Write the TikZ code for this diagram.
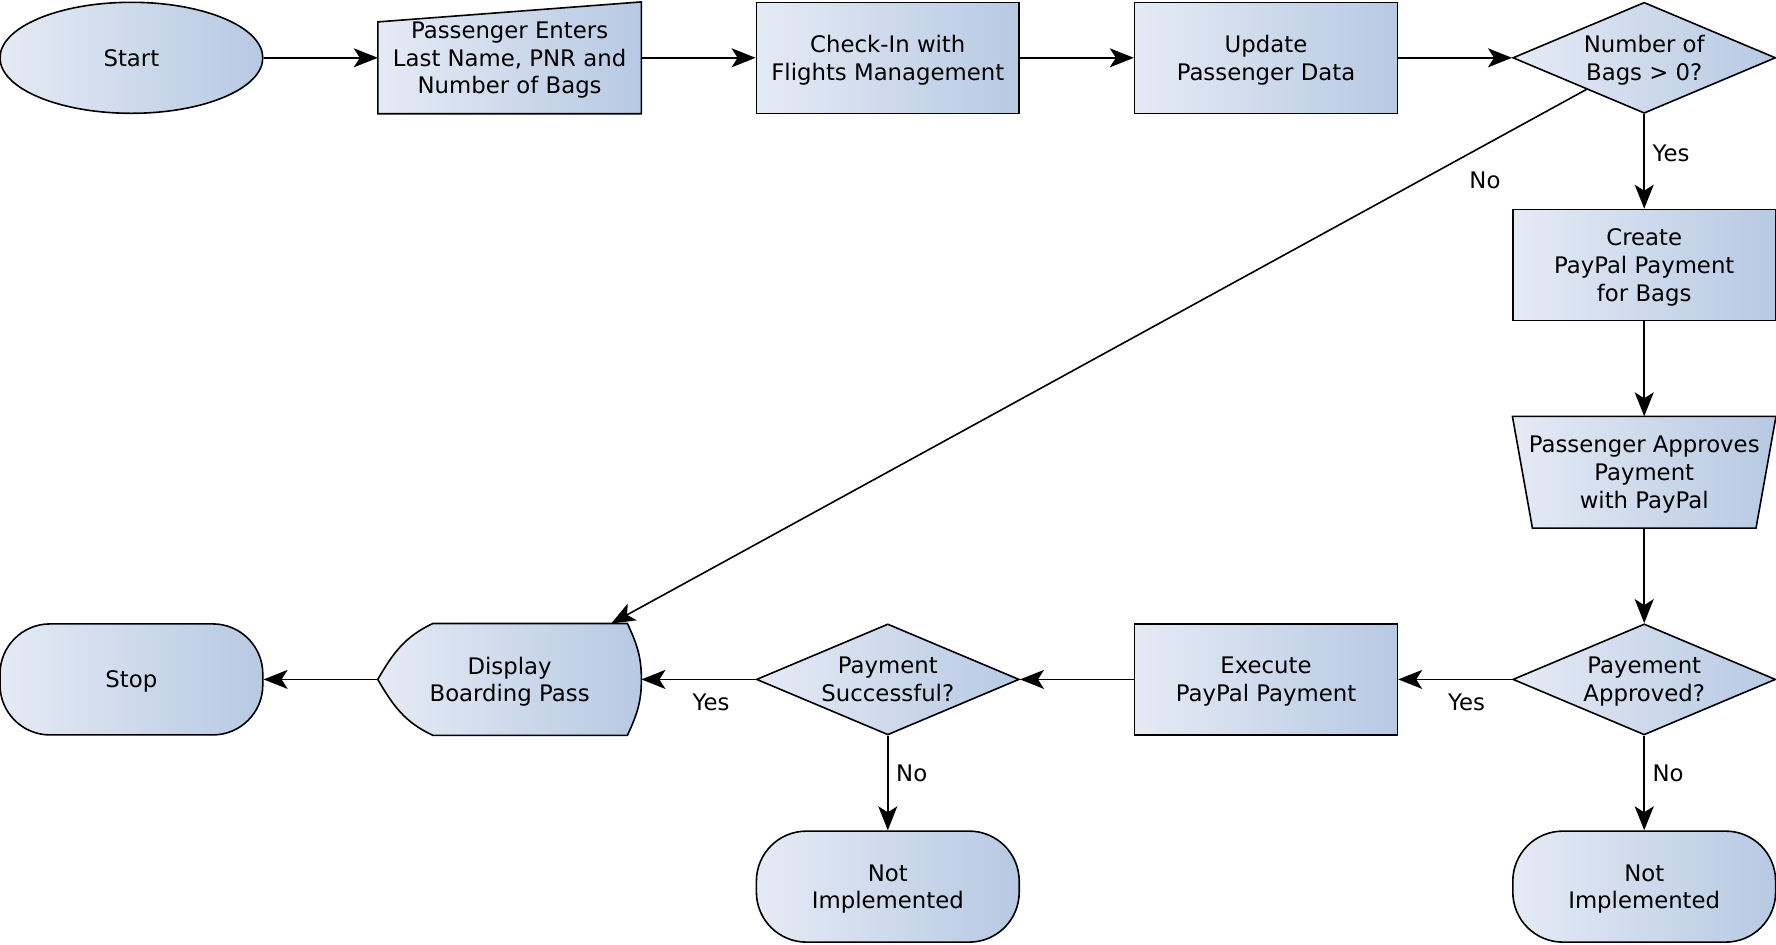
\documentclass[tikz,border=0pt]{standalone}
\usepackage{fontspec}
\setmainfont{DejaVu Sans}
\usepackage{tikz}
\usetikzlibrary{shapes.geometric, arrows.meta, positioning, calc, backgrounds}

\definecolor{flowlight}{RGB}{229,235,245}
\definecolor{flowdark}{RGB}{183,201,227}

\begin{document}
\begin{tikzpicture}[
    node distance=103.6pt and 189.1pt, on grid,
    font=\fontsize{11.4}{13.9}\selectfont,
    shaded/.style={draw, line width=0.8pt, left color=flowlight, right color=flowdark},
    base/.style={minimum width=131.4pt, minimum height=55.5pt, align=center, inner sep=0pt, text depth=0pt},
    process/.style={base, rectangle, shaded},
    terminal/.style={base, ellipse, shaded},
    stopper/.style={base, rectangle, rounded corners=25pt, shaded},
    decision/.style={base, diamond, aspect=2.37, shaded},
    frame/.style={base, rectangle},
    arrow/.style={-{Stealth[length=12pt, width=9.5pt, inset=3pt]}, line width=0.8pt},
    answer/.style={inner sep=3.8pt},
]

\useasboundingbox (-65.7pt,28.9pt) rectangle (822.3pt,-443.1pt);

% Top row
\node[terminal] (start) at (0,0) {Start};
\node[frame, right=of start] (entry) {Passenger Enters\\Last Name, PNR and\\Number of Bags};
\node[process, right=of entry] (checkin) {Check-In with\\Flights Management};
\node[process, right=of checkin] (update) {Update\\Passenger Data};
\node[decision, right=of update] (bags) {Number of\\Bags > 0?};

% Right column
\node[process, below=of bags] (create) {Create\\PayPal Payment\\for Bags};
\node[frame, below=of create] (approve) {Passenger Approves\\Payment\\with PayPal};
\node[decision, below=of approve] (approved) {Payement\\Approved?};
\node[stopper, below=of approved] (notimpl1) {Not\\Implemented};

% Bottom row
\node[process, left=of approved] (execute) {Execute\\PayPal Payment};
\node[decision, left=of execute] (success) {Payment\\Successful?};
\node[stopper, below=of success] (notimpl2) {Not\\Implemented};
\node[frame, left=of success] (boarding) {Display\\Boarding Pass};
\node[stopper, left=of boarding] (stop) {Stop};

% Special outlines
\begin{scope}[on background layer]
    \path[shaded] (entry.south west) -- (entry.south east) -- (entry.north east)
        -- ([yshift=-10pt]entry.north west) -- cycle;
    \path[shaded] (approve.north west) -- (approve.north east)
        -- ([xshift=-10pt]approve.south east) -- ([xshift=10pt]approve.south west) -- cycle;
    \path[shaded] ([xshift=27.5pt]boarding.north west) -- ([xshift=-7pt]boarding.north east)
        to[out=-65, in=90] (boarding.east) to[out=-90, in=65] ([xshift=-7pt]boarding.south east)
        -- ([xshift=27.5pt]boarding.south west) to[out=155, in=-60] (boarding.west)
        to[out=60, in=205] ([xshift=27.5pt]boarding.north west) -- cycle;
\end{scope}

% Arrows
\draw[arrow] (start) -- (entry);
\draw[arrow] (entry) -- (checkin);
\draw[arrow] (checkin) -- (update);
\draw[arrow] (update) -- (bags);
\draw[arrow] (bags) -- node[answer, pos=0.42, right] {Yes} (create);
\draw[arrow] (bags) -- node[answer, pos=0.104, below=9pt] {No} (boarding);
\draw[arrow] (create) -- (approve);
\draw[arrow] (approve) -- (approved);
\draw[arrow] (approved) -- node[answer, pos=0.4, below=3pt] {Yes} (execute);
\draw[arrow] (approved) -- node[answer, pos=0.4, right] {No} (notimpl1);
\draw[arrow] (execute) -- (success);
\draw[arrow] (success) -- node[answer, pos=0.39, below=3pt] {Yes} (boarding);
\draw[arrow] (success) -- node[answer, pos=0.4, right] {No} (notimpl2);
\draw[arrow] (boarding) -- (stop);

\end{tikzpicture}
\end{document}
